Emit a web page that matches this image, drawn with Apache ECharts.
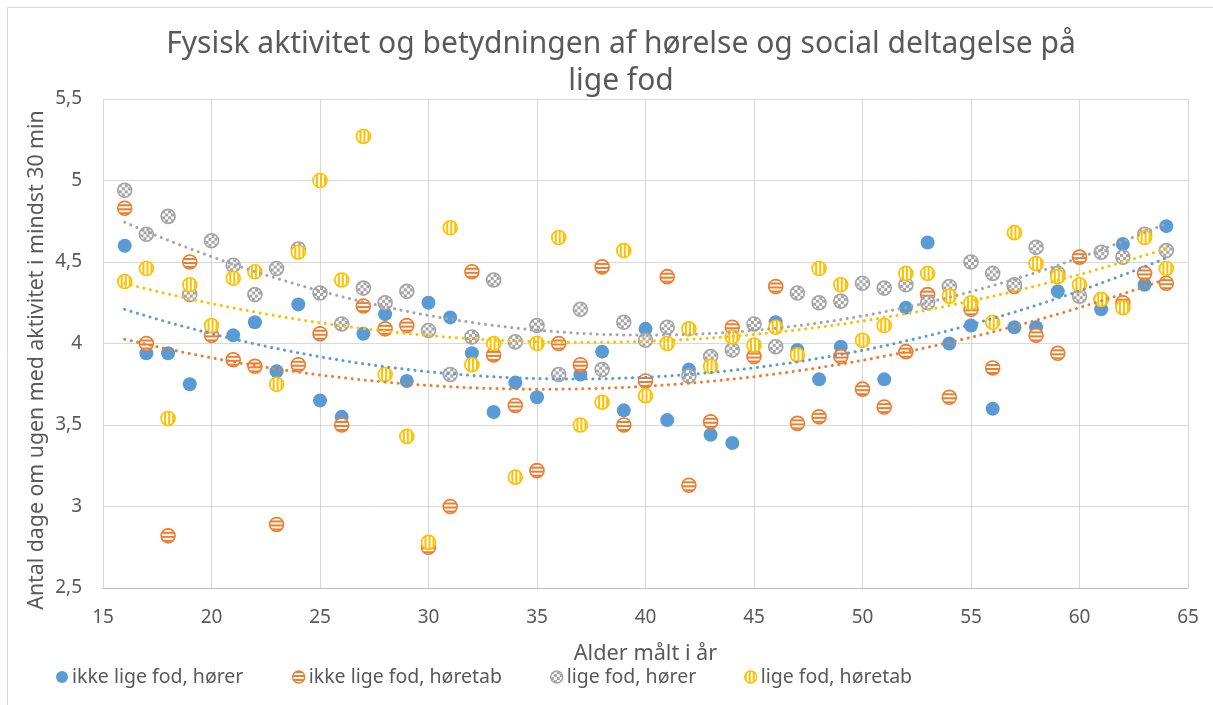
<!DOCTYPE html>
<html>
<head>
<meta charset="utf-8">
<script src="https://cdn.jsdelivr.net/npm/echarts@6/dist/echarts.min.js"></script>
<style>html,body{margin:0;padding:0;background:#fff}#c{width:1213px;height:705px}</style>
</head>
<body>
<div id="c"></div>
<script>
const FONT = 'Noto Sans';
const TEXT_COLOR = '#595959';

const chartTitle = 'Fysisk aktivitet og betydningen af hørelse og social deltagelse på\nlige fod';
const xAxisTitle = 'Alder målt i år';
const yAxisTitle = 'Antal dage om ugen med aktivitet i mindst 30 min';

const seriesNames = ['ikke lige fod, hører', 'ikke lige fod, høretab', 'lige fod, hører', 'lige fod, høretab'];
const seriesColors = ['#5B9BD5', '#ED7D31', '#A5A5A5', '#FFC000'];

const ages = [16,17,18,19,20,21,22,23,24,25,26,27,28,29,30,31,32,33,34,35,36,37,38,39,40,
              41,42,43,44,45,46,47,48,49,50,51,52,53,54,55,56,57,58,59,60,61,62,63,64];

const ikkeLigeFodHorer = [4.60,3.94,3.94,3.75,4.05,4.05,4.13,3.83,4.24,3.65,3.55,4.06,4.18,3.77,4.25,4.16,3.94,3.58,3.76,3.67,3.81,3.81,3.95,3.59,4.09,
                          3.53,3.84,3.44,3.39,3.92,4.13,3.96,3.78,3.98,4.02,3.78,4.22,4.62,4.00,4.11,3.60,4.10,4.10,4.32,4.53,4.21,4.61,4.36,4.72];
const ikkeLigeFodHoretab = [4.83,4.00,2.82,4.50,4.05,3.90,3.86,2.89,3.87,4.06,3.50,4.23,4.09,4.11,2.75,3.00,4.44,3.93,3.62,3.22,4.00,3.87,4.47,3.50,3.77,
                            4.41,3.13,3.52,4.10,3.92,4.35,3.51,3.55,3.92,3.72,3.61,3.95,4.30,3.67,4.21,3.85,4.35,4.05,3.94,4.53,4.27,4.25,4.43,4.37];
const ligeFodHorer = [4.94,4.67,4.78,4.30,4.63,4.48,4.30,4.46,4.58,4.31,4.12,4.34,4.25,4.32,4.08,3.81,4.04,4.39,4.01,4.11,3.81,4.21,3.84,4.13,4.02,
                      4.10,3.80,3.92,3.96,4.12,3.98,4.31,4.25,4.26,4.37,4.34,4.36,4.25,4.35,4.50,4.43,4.36,4.59,4.43,4.29,4.56,4.53,4.67,4.57];
const ligeFodHoretab = [4.38,4.46,3.54,4.36,4.11,4.40,4.44,3.75,4.56,5.00,4.39,5.27,3.81,3.43,2.78,4.71,3.87,4.00,3.18,4.00,4.65,3.50,3.64,4.57,3.68,
                        4.00,4.09,3.86,4.04,3.99,4.10,3.93,4.46,4.36,4.02,4.11,4.43,4.43,4.29,4.25,4.13,4.68,4.49,4.41,4.36,4.27,4.22,4.65,4.46];

const allValues = [ikkeLigeFodHorer, ikkeLigeFodHoretab, ligeFodHorer, ligeFodHoretab];
const patternKinds = ['solid', 'h', 'check', 'v'];
const SYMBOL_SIZE = 14;

function makeFill(kind, color, scale) {
  if (kind === 'solid') return color;
  const c = document.createElement('canvas');
  const s = kind === 'check' ? 6 : 4;
  c.width = s; c.height = s;
  const g = c.getContext('2d');
  g.fillStyle = '#ffffff'; g.fillRect(0, 0, s, s);
  g.fillStyle = color;
  if (kind === 'h') g.fillRect(0, 0, s, 2);
  else if (kind === 'v') g.fillRect(0, 0, 2, s);
  else { g.fillRect(0, 0, 3, 3); g.fillRect(3, 3, 3, 3); }
  return { image: c, repeat: 'repeat', scaleX: scale, scaleY: scale, x: 0, y: 0 };
}

// Least-squares polynomial (order 2) trendline, as in the original chart
function quadFit(xs, ys) {
  const c0 = 40;
  let S = [0,0,0,0,0], T = [0,0,0];
  for (let i = 0; i < xs.length; i++) {
    if (ys[i] == null) continue;
    const u = xs[i] - c0;
    let p = 1;
    for (let k = 0; k < 5; k++) { S[k] += p; if (k < 3) T[k] += p * ys[i]; p *= u; }
  }
  const A = [[S[0],S[1],S[2],T[0]],[S[1],S[2],S[3],T[1]],[S[2],S[3],S[4],T[2]]];
  for (let i = 0; i < 3; i++) {
    for (let j = i + 1; j < 3; j++) {
      const f = A[j][i] / A[i][i];
      for (let k = i; k < 4; k++) A[j][k] -= f * A[i][k];
    }
  }
  const r = [0,0,0];
  for (let i = 2; i >= 0; i--) {
    let s = A[i][3];
    for (let k = i + 1; k < 3; k++) s -= A[i][k] * r[k];
    r[i] = s / A[i][i];
  }
  return x => { const u = x - c0; return r[0] + r[1] * u + r[2] * u * u; };
}

const series = [];
allValues.forEach((vals, i) => {
  series.push({
    name: seriesNames[i],
    type: 'scatter',
    symbol: 'circle',
    symbolSize: SYMBOL_SIZE,
    z: 2 + i * 0.01,
    data: ages.map((a, k) => [a, vals[k]]),
    itemStyle: {
      color: makeFill(patternKinds[i], seriesColors[i], 2 / SYMBOL_SIZE),
      borderColor: seriesColors[i],
      borderWidth: patternKinds[i] === 'solid' ? 0 : 1.6,
      opacity: 1
    },
    emphasis: { disabled: true }
  });
});
allValues.forEach((vals, i) => {
  const f = quadFit(ages, vals);
  const pts = [];
  for (let x = ages[0]; x <= ages[ages.length - 1] + 1e-9; x += 0.25) pts.push([x, f(x)]);
  series.push({
    name: 'Poly. (' + seriesNames[i] + ')',
    type: 'line',
    data: pts,
    showSymbol: false,
    silent: true,
    z: 3,
    lineStyle: { color: seriesColors[i], width: 3, type: [0.1, 6.5], cap: 'round' }
  });
});

const legendLefts = [56, 292, 550, 744];
const legends = seriesNames.map((n, i) => ({
  data: [{
    name: n,
    itemStyle: {
      color: makeFill(patternKinds[i], seriesColors[i], 1),
      borderColor: seriesColors[i],
      borderWidth: patternKinds[i] === 'solid' ? 0 : 1.4
    }
  }],
  left: legendLefts[i],
  top: 667,
  padding: 0,
  icon: 'circle',
  itemWidth: 12,
  itemHeight: 12,
  itemGap: 0,
  selectedMode: false,
  textStyle: { fontFamily: FONT, fontSize: 19.5, color: TEXT_COLOR, padding: [0, 0, 0, -1] }
}));

const chart = echarts.init(document.getElementById('c'), null, { renderer: 'canvas' });
chart.setOption({
  animation: false,
  backgroundColor: '#ffffff',
  title: {
    text: chartTitle,
    left: 621,
    textAlign: 'center',
    top: 26,
    padding: 0,
    textStyle: { fontFamily: FONT, fontSize: 30, fontWeight: 'normal', color: TEXT_COLOR, lineHeight: 37 }
  },
  legend: legends,
  grid: { left: 103, right: 25, top: 99, bottom: 117, containLabel: false, outerBoundsMode: 'none' },
  xAxis: {
    type: 'value', min: 15, max: 65, interval: 5,
    name: xAxisTitle, nameLocation: 'middle', nameGap: 55,
    nameTextStyle: { fontFamily: FONT, fontSize: 21.7, color: TEXT_COLOR },
    axisLine: { show: true, lineStyle: { color: '#BFBFBF', width: 1 } },
    axisTick: { show: false },
    axisLabel: { fontFamily: FONT, fontSize: 19, color: TEXT_COLOR, margin: 20 },
    splitLine: { show: true, lineStyle: { color: '#D9D9D9', width: 1 } }
  },
  yAxis: {
    type: 'value', min: 2.5, max: 5.5, interval: 0.5,
    axisLine: { show: false },
    axisTick: { show: false },
    axisLabel: { fontFamily: FONT, fontSize: 19, color: TEXT_COLOR, margin: 21,
                 formatter: v => String(v).replace('.', ',') },
    splitLine: { show: true, lineStyle: { color: '#D9D9D9', width: 1 } }
  },
  graphic: [
    { type: 'line', shape: { x1: 7.5, y1: 7.5, x2: 1213, y2: 7.5 }, style: { stroke: '#D9D9D9', lineWidth: 1 }, silent: true },
    { type: 'line', shape: { x1: 7.5, y1: 7.5, x2: 7.5, y2: 705 }, style: { stroke: '#D9D9D9', lineWidth: 1 }, silent: true },
    { type: 'text', x: 37, y: 360, rotation: Math.PI / 2,
      style: { text: yAxisTitle, fontFamily: FONT, fontSize: 21.3, fill: TEXT_COLOR, align: 'center', verticalAlign: 'middle' }, silent: true }
  ],
  series: series
});
</script>
</body>
</html>
